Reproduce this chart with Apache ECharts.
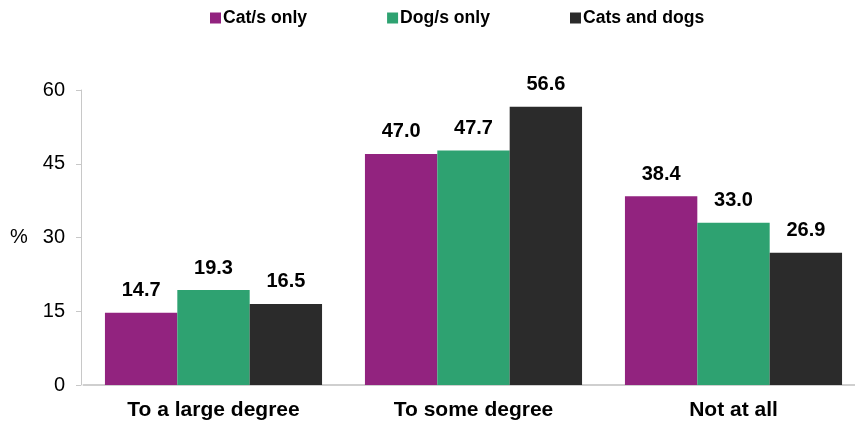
<!DOCTYPE html>
<html><head><meta charset="utf-8">
<script src="https://cdn.jsdelivr.net/npm/echarts@6/dist/echarts.min.js"></script>
<style>html,body{margin:0;padding:0;background:#fff}#c{width:855px;height:424px}</style>
</head><body><div id="c"></div>
<script>
const categories = ["To a large degree", "To some degree", "Not at all"];
const catOnly = [14.7, 47.0, 38.4];
const dogOnly = [19.3, 47.7, 33.0];
const catsAndDogs = [16.5, 56.6, 26.9];
const seriesNames = ["Cat/s only", "Dog/s only", "Cats and dogs"];
const colors = ["#92237f", "#2ea271", "#2b2b2b"];
const yTicks = {min: 0, max: 60, interval: 15};

const font = "Liberation Sans, Arial, sans-serif";
const chart = echarts.init(document.getElementById('c'), null, {renderer: 'canvas'});
const mk = (name, data, i) => ({
  name, type: 'bar', data, barGap: '0%', barCategoryGap: '16.5%',
  itemStyle: {color: colors[i]},
  label: {show: true, position: 'top', distance: 12, formatter: p => p.value.toFixed(1),
    fontFamily: font, fontWeight: 'bold', fontSize: 20, color: '#000'}
});
chart.setOption({
  animation: false,
  textStyle: {fontFamily: font},
  legend: {
    top: 4, left: 205, itemGap: 80, itemWidth: 11, itemHeight: 11, icon: 'rect',
    textStyle: {fontFamily: font, fontWeight: 'bold', fontSize: 17.6, color: '#000', padding: [0,0,0,-3]},
    data: seriesNames
  },
  grid: {left: 83.5, top: 90, width: 780, height: 295, containLabel: false, outerBoundsMode: 'none'},
  xAxis: {
    type: 'category', data: categories,
    axisLine: {lineStyle: {color: '#cfcfcf', width: 2}},
    axisTick: {show: false},
    axisLabel: {fontFamily: font, fontWeight: 'bold', fontSize: 21, color: '#000', margin: 15}
  },
  yAxis: {
    type: 'value', min: yTicks.min, max: yTicks.max, interval: yTicks.interval, offset: 2.5,
    axisLine: {show: true, lineStyle: {color: '#c8c8c8', width: 1}},
    axisTick: {show: true, length: 5, lineStyle: {color: '#c8c8c8'}},
    splitLine: {show: false},
    axisLabel: {fontFamily: font, fontSize: 20, color: '#000', margin: 16}
  },
  graphic: [{type: 'text', left: 10, top: 227, style: {text: '%', fontFamily: font, fontSize: 20, fill: '#000'}}],
  series: [mk(seriesNames[0], catOnly, 0), mk(seriesNames[1], dogOnly, 1), mk(seriesNames[2], catsAndDogs, 2)]
});
</script></body></html>
